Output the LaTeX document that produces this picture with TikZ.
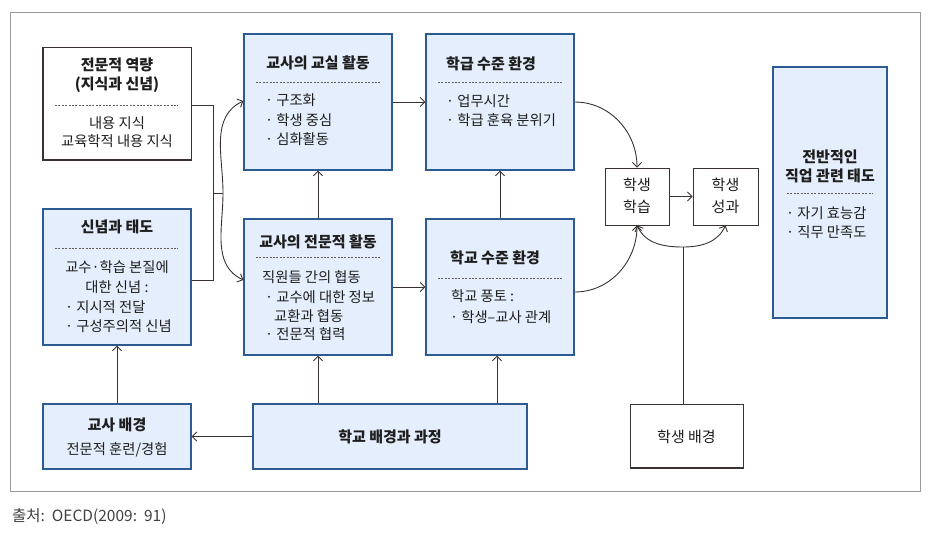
\documentclass[tikz,border=0pt]{standalone}
\usepackage{fontspec}
\setmainfont{Noto Sans CJK KR}
\usetikzlibrary{arrows.meta,calc}
\definecolor{fillb}{HTML}{E4EEFC}
\definecolor{edgeb}{HTML}{2E5A92}
\definecolor{ln}{HTML}{3A3230}
\definecolor{txt}{HTML}{1E1E1E}
\definecolor{frm}{HTML}{9A9A9A}
\begin{document}
\begin{tikzpicture}[x=1pt,y=-1pt,
  bbox/.style={draw=edgeb, fill=fillb, line width=1.3pt, inner sep=0pt},
  wbox/.style={draw=ln, fill=white, line width=0.9pt, inner sep=0pt},
  ttl/.style={font=\fontsize{15}{19}\selectfont\bfseries, text=txt, align=center, inner sep=0pt},
  body/.style={font=\fontsize{14.3}{19.5}\selectfont, text=txt, align=left, inner sep=0pt},
  bodyc/.style={body, align=center},
  dsh/.style={draw=ln!80, dash pattern=on 2pt off 1.4pt, line width=0.5pt},
  arr/.style={draw=ln, line width=0.9pt, -{Straight Barb[length=4.5pt,width=9pt]}},
  con/.style={draw=ln, line width=0.9pt},
  thk/.style={draw=ln, line width=2pt}]
\useasboundingbox (0,0) rectangle (933,538);
\draw[frm, line width=1pt] (10,12) rectangle (920,491);

% boxes
\node[wbox, minimum width=148pt, minimum height=113pt] (A) at (117,103.5) {};
\node[bbox, minimum width=148pt, minimum height=136pt] (B) at (117,277) {};
\node[bbox, minimum width=148pt, minimum height=136pt] (C) at (318,102) {};
\node[bbox, minimum width=148pt, minimum height=136pt] (D) at (318,287) {};
\node[bbox, minimum width=148pt, minimum height=136pt] (E) at (500,102) {};
\node[bbox, minimum width=148pt, minimum height=136pt] (F) at (500,287) {};
\node[wbox, minimum width=64pt, minimum height=57pt] (SL) at (637,196.5) {};
\node[wbox, minimum width=65pt, minimum height=57pt] (SO) at (725.5,196.5) {};
\node[wbox, minimum width=113pt, minimum height=64pt] (SB) at (686.5,436) {};
\node[bbox, minimum width=114pt, minimum height=251pt] (OV) at (830,192.5) {};
\node[bbox, minimum width=148pt, minimum height=65pt] (TB) at (117,436.5) {};
\node[bbox, minimum width=274pt, minimum height=65pt] (SG) at (390,436.5) {};

% shadow edges
\draw[thk] (A.north west) -- (A.south west) -- (A.south east);
\draw[thk] (SB.south west) -- (SB.south east);

% dashed separators
\draw[dsh] (55,105) -- (178,105);
\draw[dsh] (55,248) -- (178,248);
\draw[dsh] (256,82) -- (380,82);
\draw[dsh] (256,257) -- (380,257);
\draw[dsh] (438,82) -- (562,82);
\draw[dsh] (438,278) -- (562,278);
\draw[dsh] (787,193) -- (873,193);

% texts
\node[ttl] (At) at (117,75) {전문적 역량\\(지식과 신념)};
\node[bodyc, font=\fontsize{14.3}{18}\selectfont] (Ab) at (117,132) {내용 지식\\교육학적 내용 지식};

\node[ttl] (Bt) at (117,227) {신념과 태도};
\node[bodyc] (Bb) at (117,277) {교수·학습 본질에\\대한 신념 :};
\node[body, anchor=west] (Bi) at (65,316.5) {· 지시적 전달\\· 구성주의적 신념};

\node[ttl] (Ct) at (318,63) {교사의 교실 활동};
\node[body, anchor=west] (Ci) at (265,120) {· 구조화\\· 학생 중심\\· 심화활동};

\node[ttl] (Dt) at (318,242) {교사의 전문적 활동};
\node[body, anchor=west] (D1) at (262,277) {직원들 간의 협동};
\node[body, anchor=west] (D2) at (265,297) {· 교수에 대한 정보};
\node[body, anchor=west] (D3) at (274,316) {교환과 협동};
\node[body, anchor=west] (D4) at (265,334) {· 전문적 협력};

\node[ttl, anchor=west] (Et) at (446,64) {학급 수준 환경};
\node[body, anchor=west] (Ei) at (446,110.5) {· 업무시간\\· 학급 훈육 분위기};

\node[ttl, anchor=west] (Ft) at (450,258) {학교 수준 환경};
\node[body, anchor=west] (F1) at (451,296) {학교 풍토 :};
\node[body, anchor=west] (F2) at (450,317) {· 학생–교사 관계};

\node[bodyc, font=\fontsize{15}{22}\selectfont] (SLt) at (637,196) {학생\\학습};
\node[bodyc, font=\fontsize{15}{22}\selectfont] (SOt) at (725.5,196) {학생\\성과};
\node[bodyc, font=\fontsize{15}{18}\selectfont] (SBt) at (686.5,437) {학생 배경};

\node[ttl] (OVt) at (830,166) {전반적인\\직업 관련 태도};
\node[body, anchor=west] (OVi) at (786,222.5) {· 자기 효능감\\· 직무 만족도};

\node[ttl] (TBt) at (117,425) {교사 배경};
\node[bodyc] (TBb) at (117,450) {전문적 훈련/경험};
\node[ttl] (SGt) at (390,437) {학교 배경과 과정};

\node[body, anchor=west, font=\fontsize{15.5}{18}\selectfont, text=txt!85] (cap) at (12,517) {출처:\ \ OECD(2009:\ \ 91)};

% connectors
\coordinate (stub) at (213,193);
\coordinate (junc) at (223,193);
\draw[con] ([yshift=-1.5pt]A.east) -| (stub);
\draw[con] ([yshift=-3pt]B.east) -| (stub);
\draw[con] (stub) -- (junc);
\draw[arr] (junc) to[out=90, in=205] ([yshift=1pt]C.west);
\draw[arr] (junc) to[out=-90, in=155] ([yshift=7pt]D.west);

\draw[arr] (C.east) -- (E.west);
\draw[arr] (D.east) -- (F.west);
\draw[arr] (D.north) -- (C.south);
\draw[arr] (F.north) -- (E.south);

\draw[arr] (E.east) to[out=0, in=90] (SL.north);
\draw[arr] ([yshift=-5pt]F.east) to[out=0, in=-90] (SL.south);
\draw[arr] (SL.east) -- (SO.west);

\coordinate (m) at (683,247);
\draw[con] (m |- SB.north) -- (m);
\draw[arr] (m) to[out=180, in=-65] (SL.south);
\draw[arr] (m) to[out=0, in=-115] (SO.south);

\draw[arr] (D.south |- SG.north) -- (D.south);
\draw[arr] ([xshift=-3pt]F.south |- SG.north) -- ([xshift=-3pt]F.south);
\draw[arr] (SG.west) -- (TB.east);
\draw[arr] (TB.north) -- (B.south);
\end{tikzpicture}
\end{document}
